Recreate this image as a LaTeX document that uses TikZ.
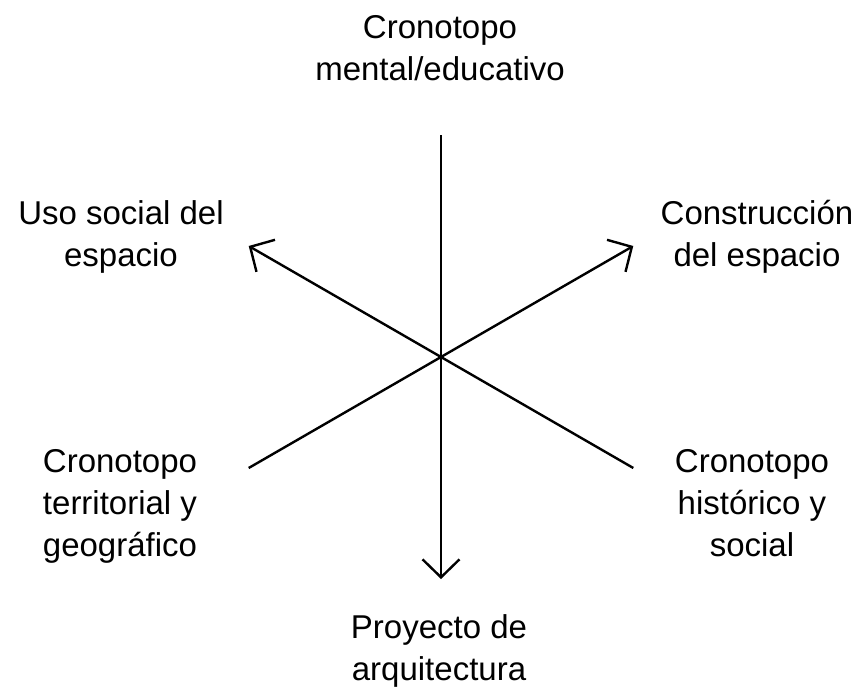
\documentclass[tikz,border=0pt]{standalone}
\usepackage{fontspec}
\setmainfont{Liberation Sans}
\usetikzlibrary{arrows.meta}

\begin{document}
\begin{tikzpicture}[x=1pt,y=1pt,yscale=-1,xscale=1]
\tikzset{
  axis/.style={line width=2.4pt},
  barb/.style={-{Straight Barb[length=18pt,width=37pt,line width=2.4pt]}},
  lbl/.style={anchor=base,inner sep=0pt,align=center,font=\fontsize{33}{42}\selectfont}
}
\useasboundingbox (0,0) rectangle (865,688);

%Centre and ends of the six rays
\coordinate (c) at (441,357);
\coordinate (top) at (441,135);
\coordinate (bot) at (441,579);
\coordinate (ul) at (248.7,246);
\coordinate (ur) at (633.3,246);
\coordinate (ll) at (248.7,468);
\coordinate (lr) at (633.3,468);

%Straight Lines
\draw [axis] (top) -- (c) ;
\draw [axis,barb] (c) -- (bot) ;
\draw [axis,barb] (c) -- (ul) ;
\draw [axis,barb] (c) -- (ur) ;
\draw [axis] (c) -- (ll) ;
\draw [axis] (c) -- (lr) ;

% Text Node (base = last line)
\node [lbl] (mental) at (440,80) {Cronotopo\\mental/educativo};
\node [lbl] (uso) at (121,266) {Uso social del\\espacio};
\node [lbl] (constr) at (757,266) {Construcción\\del espacio};
\node [lbl] (territ) at (120,556) {Cronotopo\\territorial y\\geográfico};
\node [lbl] (histor) at (752,556) {Cronotopo\\histórico y\\social};
\node [lbl] (proy) at (439,680) {Proyecto de\\arquitectura};

\end{tikzpicture}
\end{document}
